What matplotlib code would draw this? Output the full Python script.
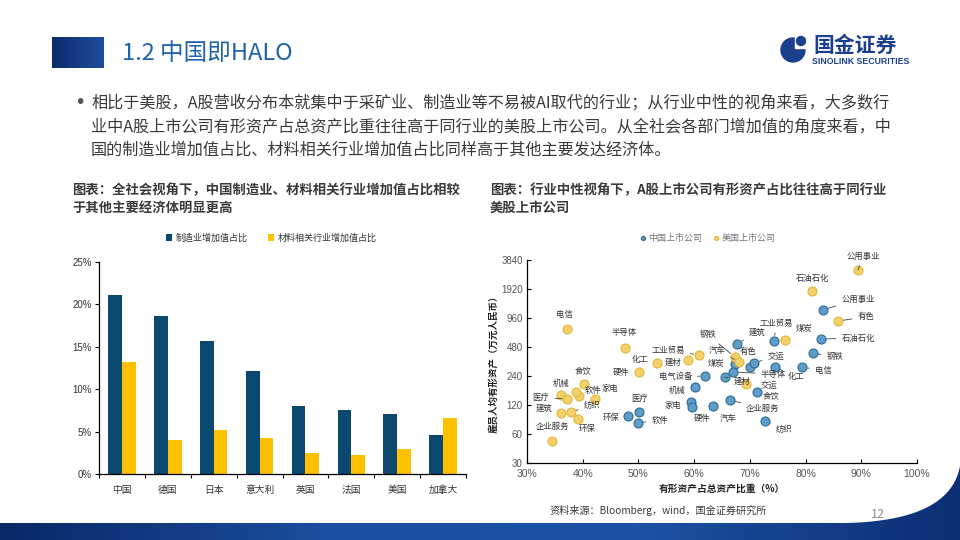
import numpy as np
import matplotlib.pyplot as plt
from matplotlib.colors import LinearSegmentedColormap
from matplotlib.patches import Polygon, Rectangle, Circle
from matplotlib.ticker import NullLocator

plt.rcParams['font.family'] = ['Noto Sans CJK SC', 'DejaVu Sans']

# ---- left chart data: value added share (%) ----
countries = ['中国', '德国', '日本', '意大利', '英国', '法国', '美国', '加拿大']
manufacturing_share = [21.1, 18.6, 15.7, 12.1, 8.0, 7.5, 7.1, 4.6]
materials_share = [13.2, 4.0, 5.2, 4.3, 2.5, 2.2, 3.0, 6.6]

# ---- right chart data: tangible asset ratio (%) vs tangible assets per employee ----
cn_industries = ['公用事业', '石油石化', '钢铁', '工业贸易', '建筑', '煤炭', '有色', '交运',
                 '半导体', '建材', '电气设备', '机械', '家电', '硬件', '汽车', '企业服务',
                 '食饮', '纺织', '化工', '电信', '环保', '医疗', '软件']
cn_tangible_ratio = [83.1, 82.8, 81.3, 74.3, 67.7, 67.3, 70.0, 70.7,
                     67.0, 65.5, 62.0, 60.2, 59.4, 59.6, 63.4, 66.4,
                     71.3, 72.7, 74.5, 79.4, 48.1, 50.1, 49.9]
cn_assets_per_emp = [1162, 581, 416, 554, 516, 320, 298, 327,
                     264, 234, 240, 185, 129, 114, 117, 135,
                     164, 82, 298, 298, 92, 102, 78]

us_industries = ['公用事业', '石油石化', '有色', '煤炭', '电信', '半导体', '工业贸易', '建材',
                 '化工', '硬件', '钢铁', '汽车', '交运', '食饮', '机械', '医疗',
                 '软件', '电气设备', '家电', '建筑', '纺织', '环保', '企业服务']
us_tangible_ratio = [89.4, 81.2, 85.8, 76.3, 37.2, 47.6, 60.9, 58.9,
                     53.3, 50.1, 67.3, 68.1, 69.3, 40.2, 36.1, 37.2,
                     39.3, 38.8, 42.2, 36.1, 37.9, 39.2, 34.5]
us_assets_per_emp = [3024, 1830, 894, 567, 738, 469, 396, 352,
                     327, 264, 378, 335, 198, 198, 152, 139,
                     149, 164, 139, 99, 101, 86, 51]

y_ticks = [30, 60, 120, 240, 480, 960, 1920, 3840]
x_ticks = [30, 40, 50, 60, 70, 80, 90, 100]

# label placement (offset in pixels, leader line flag); None = no label shown
cn_label_pos = {'公用事业': (35, 11, True), '石油石化': (37, 1, True), '钢铁': (22, -4, True),
                '工业贸易': (3, 18, True), '建筑': (20, 12, True), '煤炭': (-19, 1, False),
                '有色': (-2, 15, False), '交运': (22, 7, True), '半导体': (40, -2, True),
                '建材': (17, -4, True), '电气设备': (-30, -1, True), '机械': (-18, -4, False),
                '家电': (-18, -4, False), '硬件': (10, -11, False), '汽车': (15, -12, False),
                '企业服务': (33, -8, True), '食饮': (14, -4, False), '纺织': (19, -8, True),
                '化工': (21, -10, True), '电信': (21, -4, True), '环保': (-17, -1, False),
                '医疗': (1, 13, False), '软件': (22, 3, True)}
us_label_pos = {'公用事业': (5, 14, True), '石油石化': (0, 13, False), '有色': (28, 4, True),
                '煤炭': (19, 12, False), '电信': (-3, 15, False), '半导体': (-1, 15, False),
                '工业贸易': (-31, 5, True), '建材': (-15, -2, False), '化工': (-17, 4, False),
                '硬件': (-18, 0, False), '钢铁': (-27, 22, True), '汽车': (-22, 12, True),
                '交运': (23, -1, False), '食饮': (-1, 13, False), '机械': (0, 12, False),
                '医疗': (-26, 1, True), '软件': (14, 5, False), '电气设备': None,
                '家电': (15, 10, False), '建筑': (-17, 5, False), '纺织': (21, 7, True),
                '环保': (9, -10, False), '企业服务': (0, 14, False)}

W, H = 960, 540
navy = '#0b4870'
gold = '#ffc000'
text_dark = '#3a3a3a'

fig = plt.figure(figsize=(9.6, 5.4), dpi=100)

# background layer in pixel coordinates
bg = fig.add_axes([0, 0, 1, 1])
bg.set_xlim(0, W)
bg.set_ylim(H, 0)
bg.axis('off')

band_cmap = LinearSegmentedColormap.from_list('band', ['#0a2766', '#1a4e9e', '#1b52a3', '#0c2e72'])
grad = np.linspace(0, 1, 256).reshape(1, -1)

# bottom swoosh band
t = np.linspace(0, 1, 40)
cx = (1 - t) ** 2 * 845 + 2 * (1 - t) * t * 950 + t ** 2 * 960
cy = (1 - t) ** 2 * 523 + 2 * (1 - t) * t * 521 + t ** 2 * 466
verts = [(0, 523)] + list(zip(cx, cy)) + [(960, 540), (0, 540)]
band = Polygon(verts, closed=True, facecolor='none', edgecolor='none')
bg.add_patch(band)
im = bg.imshow(grad, cmap=band_cmap, extent=(0, W, H, 460), aspect='auto', zorder=1)
im.set_clip_path(band)

# title block
sq = Rectangle((52, 37), 52, 31, facecolor='none', edgecolor='none')
bg.add_patch(sq)
sq_cmap = LinearSegmentedColormap.from_list('sq', ['#0b2a6a', '#1d4f9d'])
im2 = bg.imshow(grad, cmap=sq_cmap, extent=(52, 104, 68, 37), aspect='auto', zorder=1)
im2.set_clip_path(sq)
bg.set_xlim(0, W)
bg.set_ylim(H, 0)

bg.text(122, 54, '1.2 中国即HALO', fontsize=17, color='#1f62ad', va='center', ha='left')

# logo
logo_c = '#1b3f8c'
bg.add_patch(Circle((793, 50), 12, color=logo_c))
bg.add_patch(Rectangle((795, 36), 14, 12, color='white'))
bg.add_patch(Circle((801, 41), 4.5, color=logo_c))
bg.text(813, 45, '国金证券', fontsize=15, fontweight='bold', color=logo_c, va='center', ha='left')
bg.text(812, 61, 'SINOLINK SECURITIES', fontsize=6.3, fontweight='bold', color=logo_c,
        va='center', ha='left', family=['Liberation Sans', 'DejaVu Sans'])

# bullet text
body = ['相比于美股，A股营收分布本就集中于采矿业、制造业等不易被AI取代的行业；从行业中性的视角来看，大多数行',
        '业中A股上市公司有形资产占总资产比重往往高于同行业的美股上市公司。从全社会各部门增加值的角度来看，中',
        '国的制造业增加值占比、材料相关行业增加值占比同样高于其他主要发达经济体。']
bg.text(74, 103, '•', fontsize=14, color='#555555', va='center', ha='left',
        family=['DejaVu Sans'])
for i, line in enumerate(body):
    bg.text(91, 103 + i * 23.5, line, fontsize=11.6, color=text_dark, va='center', ha='left')

bg.text(72, 190, '图表：全社会视角下，中国制造业、材料相关行业增加值占比相较', fontsize=9.6,
        fontweight='bold', color=text_dark, va='center')
bg.text(72, 208, '于其他主要经济体明显更高', fontsize=9.6, fontweight='bold', color=text_dark, va='center')
bg.text(490, 190, '图表：行业中性视角下，A股上市公司有形资产占比往往高于同行业', fontsize=9.6,
        fontweight='bold', color=text_dark, va='center')
bg.text(490, 208, '美股上市公司', fontsize=9.6, fontweight='bold', color=text_dark, va='center')

bg.text(549, 510, '资料来源：Bloomberg，wind，国金证券研究所', fontsize=7.3, color=text_dark, va='center')
bg.text(878, 514, '12', fontsize=9, color='#8a8a8a', va='center', ha='center')

# ---- left chart ----
ax1 = fig.add_axes([99 / W, 1 - 474 / H, 367 / W, 212 / H])
x = np.arange(len(countries))
ax1.bar(x - 0.15, manufacturing_share, width=0.3, color=navy, label='制造业增加值占比')
ax1.bar(x + 0.15, materials_share, width=0.3, color=gold, label='材料相关行业增加值占比')
ax1.set_xlim(-0.5, len(countries) - 0.5)
ax1.set_ylim(0, 25)
ax1.set_yticks(range(0, 26, 5))
ax1.set_yticklabels([f'{v}%' for v in range(0, 26, 5)], fontsize=7,
                    family=['Liberation Sans', 'DejaVu Sans'], color='#333333')
ax1.set_xticks(x)
ax1.set_xticklabels(countries, fontsize=7, color='#333333')
ax1.set_xticks(np.arange(-0.5, len(countries), 1), minor=True)
ax1.tick_params(axis='x', which='major', length=0, pad=8)
ax1.tick_params(axis='x', which='minor', length=3, direction='out', width=0.8)
ax1.tick_params(axis='y', length=3, direction='out', width=0.8, pad=2)
for s in ['top', 'right']:
    ax1.spines[s].set_visible(False)
for s in ['left', 'bottom']:
    ax1.spines[s].set_linewidth(0.9)
    ax1.spines[s].set_color('black')
ax1.legend(loc='center', bbox_to_anchor=(0.47, 1.113), ncol=2, frameon=False, fontsize=6.5,
           handlelength=0.7, handleheight=0.7, handletextpad=0.4, columnspacing=2.2,
           labelcolor='#333333')

# ---- right chart ----
ax2 = fig.add_axes([527 / W, 1 - 463 / H, 390 / W, 203 / H])
ax2.set_yscale('log', base=2)
ax2.scatter(cn_tangible_ratio, cn_assets_per_emp, s=42, color='#5d9dc8', edgecolor='#2f6c95',
            linewidth=0.8, zorder=3, label='中国上市公司')
ax2.scatter(us_tangible_ratio, us_assets_per_emp, s=42, color='#f3d16a', edgecolor='#e2b83c',
            linewidth=0.8, zorder=3, label='美国上市公司')
ax2.set_xlim(30, 100)
ax2.set_ylim(30, 3840)
ax2.set_yticks(y_ticks)
ax2.set_yticklabels([str(v) for v in y_ticks], fontsize=7,
                    family=['Liberation Sans', 'DejaVu Sans'], color='#555555')
ax2.yaxis.set_minor_locator(NullLocator())
ax2.set_xticks(x_ticks)
ax2.set_xticklabels([f'{v}%' for v in x_ticks], fontsize=7.5,
                    family=['Liberation Sans', 'DejaVu Sans'], color='#555555')
ax2.tick_params(length=3, direction='in', width=0.8, pad=4)
ax2.tick_params(axis='y', pad=3)
for s in ['top', 'right']:
    ax2.spines[s].set_visible(False)
for s in ['left', 'bottom']:
    ax2.spines[s].set_linewidth(0.9)
    ax2.spines[s].set_color('black')
ax2.set_xlabel('有形资产占总资产比重（%）', fontsize=7, fontweight='bold', color='#222222', labelpad=4)
ax2.set_ylabel('雇员人均有形资产（万元人民币）', fontsize=6.8, fontweight='bold', color='#222222', labelpad=2)


def label_points(names, xs, ys, positions):
    for name, xv, yv in zip(names, xs, ys):
        pos = positions.get(name)
        if pos is None:
            continue
        dx, dy, line = pos
        arrow = dict(arrowstyle='-', lw=0.6, color='#444444', shrinkA=2, shrinkB=4) if line else None
        ax2.annotate(name, (xv, yv), xytext=(dx, dy), textcoords='offset pixels', ha='center',
                     va='center', fontsize=6, color='#333333', arrowprops=arrow, zorder=4)


label_points(cn_industries, cn_tangible_ratio, cn_assets_per_emp, cn_label_pos)
label_points(us_industries, us_tangible_ratio, us_assets_per_emp, us_label_pos)

ax2.legend(loc='center', bbox_to_anchor=(0.464, 1.108), ncol=2, frameon=False, fontsize=6.5,
           markerscale=0.45, handlelength=0.6, handletextpad=0.3, columnspacing=1.2,
           labelcolor='#777777')

fig.savefig('out.png', dpi=100)
